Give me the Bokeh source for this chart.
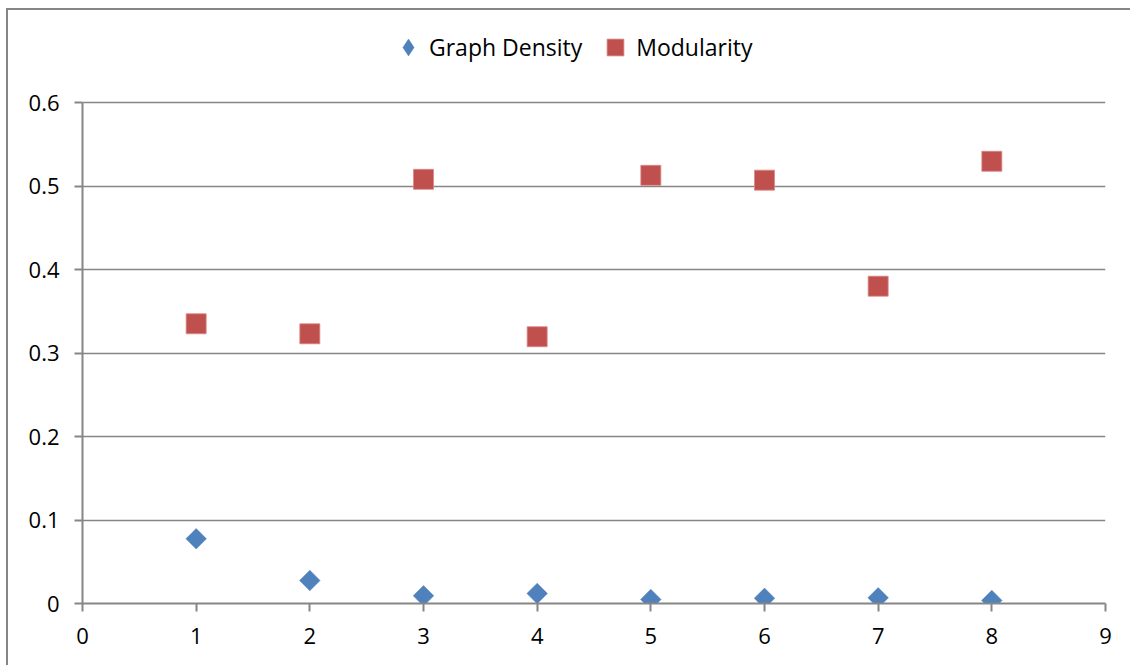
import math
from bokeh.plotting import figure
from bokeh.models import Legend, LegendItem, FixedTicker
from bokeh.embed import file_html
from bokeh.resources import INLINE

x_vals = [1, 2, 3, 4, 5, 6, 7, 8]
graph_density = [0.0775, 0.0275, 0.0092, 0.012, 0.0048, 0.0062, 0.0068, 0.0036]
modularity = [0.335, 0.323, 0.508, 0.3195, 0.5128, 0.507, 0.380, 0.5296]
x_ticks = [0, 1, 2, 3, 4, 5, 6, 7, 8, 9]
y_ticks = [0, 0.1, 0.2, 0.3, 0.4, 0.5, 0.6]
series_names = ["Graph Density", "Modularity"]

FONT = "Open Sans"
GRAY = "#868686"
BLUE = "#4F81BD"
RED = "#C0504D"

# frame extends above the 0.6 gridline to hold the legend; the y axis is bounded to 0..0.6
p = figure(width=1124, height=657, output_backend="svg", toolbar_location=None,
           x_range=(0, 9), y_range=(0, 0.7078),
           min_border_left=74, min_border_top=2, min_border_right=27, min_border_bottom=64,
           styles={"border-left": "2px solid #868686", "border-top": "2px solid #868686",
                   "margin-left": "6px", "margin-top": "8px"})
p.outline_line_color = None
p.background_fill_color = "white"
p.border_fill_color = "white"

# diamond marker used for the legend key (legend glyphs are drawn unrotated);
# it sits fully underneath the rotated-square points drawn on top of it
r_gd_key = p.scatter(x_vals, graph_density, marker="diamond", size=12,
                     fill_color=BLUE, line_color=BLUE, line_width=0.5)
r_gd = p.scatter(x_vals, graph_density, marker="square", size=14.5, angle=math.pi / 4,
                 fill_color=BLUE, line_color=BLUE, line_width=0.5)
r_mod = p.scatter(x_vals, modularity, marker="square", size=20,
                  fill_color=RED, line_color="#D98886", line_width=0.8)

for ax in (p.xaxis[0], p.yaxis[0]):
    ax.axis_line_color = GRAY
    ax.axis_line_width = 2
    ax.major_tick_line_color = GRAY
    ax.major_tick_line_width = 2
    ax.major_tick_out = 8
    ax.major_tick_in = 0
    ax.minor_tick_line_color = None
    ax.major_label_text_font = FONT
    ax.major_label_text_font_size = "22px"
    ax.major_label_text_color = "black"

p.xaxis.ticker = FixedTicker(ticks=x_ticks)
p.yaxis.ticker = FixedTicker(ticks=y_ticks)
p.yaxis.bounds = (0, 0.6)
p.yaxis.major_label_overrides = {0: "0"}
p.xaxis.major_label_standoff = 16
p.yaxis.major_label_standoff = 15

p.xgrid.grid_line_color = None
p.ygrid.grid_line_color = GRAY
p.ygrid.grid_line_width = 1.6
p.ygrid.ticker = FixedTicker(ticks=y_ticks)

legend = Legend(items=[LegendItem(label=series_names[0], renderers=[r_gd_key]),
                       LegendItem(label=series_names[1], renderers=[r_mod])],
                orientation="horizontal", location=(305, 535),
                border_line_color=None, background_fill_alpha=0,
                label_text_font=FONT, label_text_font_size="23px",
                label_text_color="black",
                glyph_width=42, glyph_height=42, label_height=42,
                label_standoff=0, spacing=12, padding=0, margin=0)
p.add_layout(legend, "center")

open("out.html", "w").write(file_html(p, INLINE))
